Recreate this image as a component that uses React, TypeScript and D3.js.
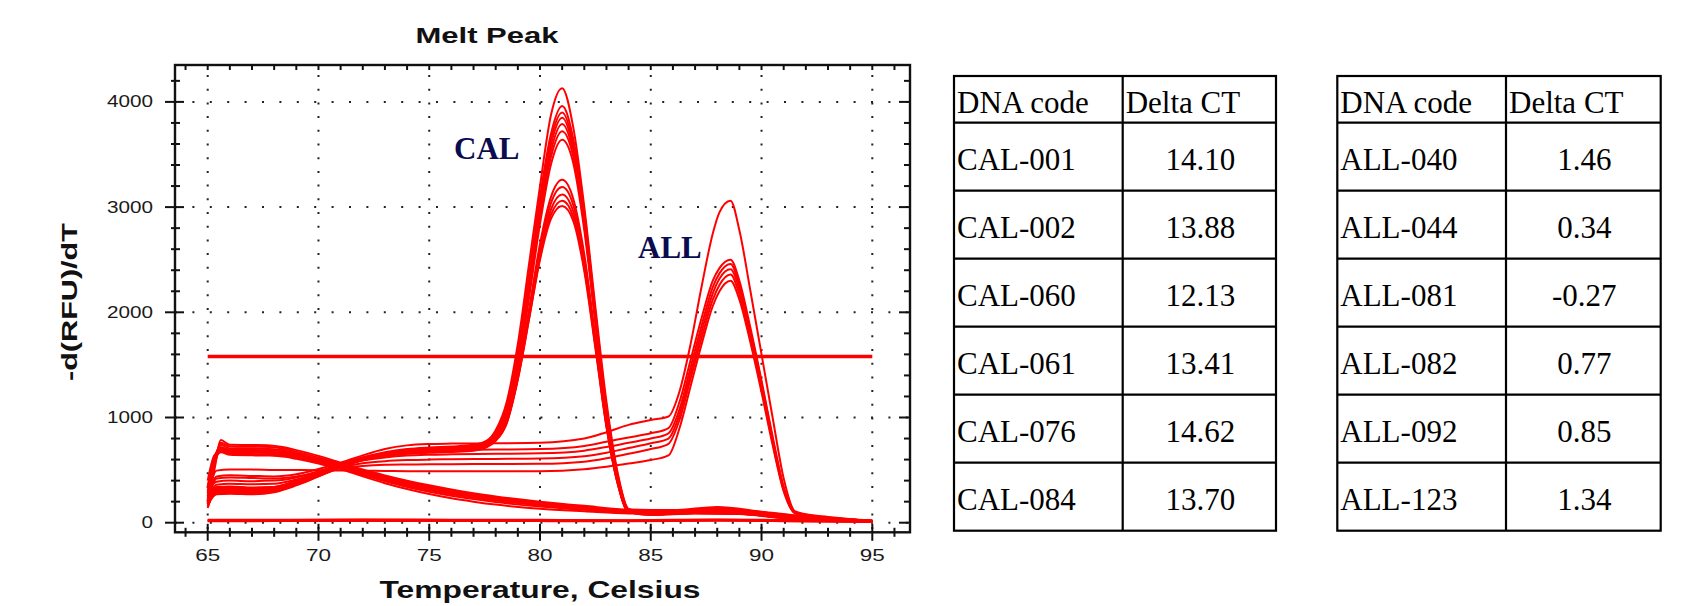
import React from "react"
import * as d3 from "d3"

// -d(RFU)/dT curves
const calTemps = [65, 65.4, 66, 67, 68, 69, 70, 71, 72, 73, 74, 75, 76, 77, 77.6, 78, 78.5, 79, 79.5, 80, 80.5, 81, 81.5, 82, 82.5, 83, 83.5, 84, 85, 87, 89, 91, 93, 95]
const calA = [160, 300, 310, 300, 320, 390, 470, 550, 620, 670, 700, 715, 725, 740, 780, 880, 1150, 1700, 2450, 3200, 3880, 4130, 3760, 3000, 2050, 1150, 480, 130, 95, 120, 110, 60, 35, 15]
const calB = [200, 290, 300, 290, 300, 370, 450, 540, 610, 660, 690, 705, 715, 730, 770, 860, 1100, 1620, 2350, 3100, 3700, 3960, 3650, 2950, 2000, 1100, 460, 125, 90, 115, 105, 58, 32, 14]
const calC = [140, 320, 330, 320, 330, 400, 480, 555, 620, 660, 685, 700, 710, 720, 755, 840, 1070, 1580, 2300, 3050, 3650, 3900, 3600, 2900, 1980, 1080, 450, 120, 88, 110, 100, 55, 30, 14]
const calD = [230, 280, 285, 280, 295, 360, 440, 530, 600, 645, 675, 690, 700, 715, 750, 830, 1040, 1540, 2250, 3000, 3600, 3850, 3560, 2870, 1950, 1060, 440, 118, 85, 105, 98, 54, 30, 13]
const calE = [180, 310, 315, 305, 315, 385, 465, 545, 610, 650, 675, 690, 698, 708, 745, 820, 1020, 1500, 2200, 2950, 3540, 3790, 3520, 2840, 1930, 1040, 430, 115, 84, 104, 96, 52, 28, 13]
const calF = [210, 330, 340, 330, 335, 400, 475, 550, 615, 655, 680, 692, 700, 712, 750, 830, 1030, 1500, 2180, 2900, 3480, 3720, 3480, 2820, 1920, 1030, 420, 112, 82, 100, 94, 50, 27, 12]
const calG = [170, 270, 275, 270, 290, 355, 440, 525, 595, 640, 665, 680, 690, 702, 740, 815, 1000, 1460, 2130, 2840, 3410, 3640, 3420, 2780, 1900, 1020, 415, 110, 80, 98, 92, 50, 27, 12]
const calH = [250, 300, 305, 300, 310, 375, 455, 535, 600, 640, 665, 680, 688, 700, 735, 800, 980, 1420, 2020, 2650, 3100, 3260, 3080, 2550, 1760, 960, 400, 108, 80, 96, 90, 48, 26, 12]
const calI = [190, 285, 290, 285, 300, 365, 445, 530, 595, 635, 660, 672, 680, 692, 728, 790, 965, 1400, 1990, 2600, 3040, 3190, 3020, 2500, 1730, 940, 390, 105, 78, 94, 88, 47, 25, 11]
const calJ = [150, 310, 320, 310, 320, 385, 462, 540, 600, 638, 660, 670, 678, 690, 724, 785, 955, 1380, 1960, 2560, 2980, 3120, 2960, 2460, 1700, 930, 385, 104, 76, 92, 86, 46, 25, 11]
const calK = [220, 295, 300, 295, 305, 370, 450, 532, 595, 632, 655, 665, 672, 684, 718, 778, 945, 1360, 1930, 2520, 2930, 3060, 2910, 2420, 1680, 920, 380, 102, 75, 90, 84, 45, 24, 11]
const calL = [260, 340, 345, 335, 340, 400, 478, 552, 610, 645, 665, 675, 682, 694, 728, 790, 960, 1370, 1930, 2500, 2890, 3010, 2870, 2390, 1660, 910, 375, 100, 74, 88, 82, 44, 24, 10]

const allTemps = [65, 65.4, 66, 67, 68, 69, 70, 71, 72, 73, 74, 75, 76, 78, 80, 82, 83, 84, 85, 85.8, 86.3, 86.8, 87.3, 87.8, 88.1, 88.6, 89, 89.5, 90, 90.5, 91, 91.5, 92, 93, 95]
const allA = [230, 440, 450, 445, 440, 460, 510, 570, 640, 700, 735, 748, 752, 755, 760, 800, 860, 930, 976, 1010, 1250, 1700, 2250, 2750, 2950, 3060, 2780, 2200, 1600, 1000, 420, 110, 80, 55, 20]
const allB = [300, 390, 400, 395, 400, 430, 490, 555, 610, 650, 672, 685, 690, 695, 700, 730, 770, 810, 850, 900, 1150, 1550, 1950, 2300, 2420, 2500, 2300, 1850, 1350, 820, 340, 100, 75, 50, 18]
const allC = [200, 360, 370, 365, 370, 410, 470, 540, 590, 620, 638, 646, 650, 655, 660, 685, 720, 760, 800, 850, 1080, 1480, 1880, 2240, 2370, 2460, 2260, 1820, 1330, 800, 330, 100, 72, 48, 17]
const allD = [270, 330, 335, 330, 340, 390, 455, 525, 565, 585, 595, 600, 603, 606, 610, 632, 665, 710, 755, 800, 1030, 1420, 1820, 2180, 2320, 2410, 2220, 1790, 1300, 780, 320, 95, 70, 46, 16]
const allE = [180, 420, 430, 425, 420, 440, 480, 520, 540, 550, 553, 555, 556, 558, 560, 580, 612, 655, 700, 750, 980, 1370, 1760, 2120, 2260, 2360, 2170, 1750, 1270, 760, 310, 95, 68, 45, 16]
const allF = [250, 495, 505, 505, 500, 500, 498, 496, 494, 492, 490, 490, 490, 490, 490, 508, 532, 562, 596, 640, 900, 1300, 1700, 2060, 2200, 2300, 2120, 1710, 1240, 740, 300, 90, 65, 44, 15]

const descTemps = [65, 65.3, 65.6, 66, 67, 67.8, 68.5, 69, 70, 71, 72, 73, 74, 75, 76, 77, 78, 80, 82, 84, 86, 88, 90, 92, 95]
const descA = [180, 500, 785, 740, 738, 735, 715, 690, 635, 570, 505, 450, 400, 355, 315, 280, 250, 200, 160, 125, 120, 150, 105, 60, 20]
const descB = [250, 560, 760, 725, 722, 720, 700, 675, 620, 560, 495, 440, 390, 345, 305, 270, 240, 190, 150, 118, 112, 140, 100, 58, 18]
const descC = [300, 600, 740, 705, 705, 700, 685, 660, 605, 548, 485, 430, 380, 335, 295, 262, 232, 182, 145, 112, 108, 132, 95, 55, 17]
const descD = [350, 620, 720, 690, 690, 688, 672, 650, 597, 540, 478, 422, 372, 327, 288, 255, 225, 176, 140, 108, 104, 126, 92, 53, 16]
const descE = [220, 540, 705, 680, 678, 675, 660, 638, 588, 532, 470, 413, 362, 318, 280, 247, 218, 170, 135, 104, 100, 120, 88, 50, 15]
const descF = [280, 580, 690, 668, 665, 662, 648, 627, 578, 524, 462, 404, 352, 308, 270, 238, 210, 163, 130, 100, 96, 115, 85, 48, 14]
const descG = [400, 640, 680, 655, 652, 650, 637, 617, 570, 517, 452, 393, 340, 295, 257, 225, 197, 153, 122, 95, 92, 110, 82, 46, 14]
const descH = [330, 590, 670, 645, 640, 638, 626, 607, 562, 510, 440, 375, 320, 272, 232, 200, 172, 132, 108, 88, 86, 104, 78, 44, 13]

const baseTemps = [65, 68, 72, 76, 80, 84, 88, 91, 95]
const baseA = [22, 24, 26, 25, 24, 20, 28, 22, 12]
const baseB = [18, 20, 22, 22, 20, 17, 24, 18, 10]
const baseC = [14, 16, 18, 18, 16, 14, 20, 15, 8]
const baseD = [26, 27, 30, 28, 26, 23, 30, 25, 14]

const threshold = 1580
const thresholdRange = [65, 95]

const xTicks = [65, 70, 75, 80, 85, 90, 95]
const yTicks = [0, 1000, 2000, 3000, 4000]

// tables
const calCodes = ["CAL-001", "CAL-002", "CAL-060", "CAL-061", "CAL-076", "CAL-084"]
const calDeltaCt = [14.10, 13.88, 12.13, 13.41, 14.62, 13.70]
const allCodes = ["ALL-040", "ALL-044", "ALL-081", "ALL-082", "ALL-092", "ALL-123"]
const allDeltaCt = [1.46, 0.34, -0.27, 0.77, 0.85, 1.34]
const headers = ["DNA code", "Delta CT"]

const groups = [
    { temps: calTemps, curves: [calA, calB, calC, calD, calE, calF, calG, calH, calI, calJ, calK, calL], width: 2 },
    { temps: allTemps, curves: [allA, allB, allC, allD, allE, allF], width: 2 },
    { temps: descTemps, curves: [descA, descB, descC, descD, descE, descF, descG, descH], width: 2 },
    { temps: baseTemps, curves: [baseA, baseB, baseC, baseD], width: 2.2 },
]

const RED = "#ff0000"
const INK = "#111"
const NAVY = "#0b0b50"

function MeltPeak() {
    const frame = { left: 175, right: 910, top: 65, bottom: 532.3 }

    const x = d3.scaleLinear().domain([65, 95]).range([207.7, 872.3])
    const y = d3.scaleLinear().domain([0, 4000]).range([522.7, 101.9])

    const line = d3.line<[number, number]>()
        .x(d => x(d[0]))
        .y(d => y(d[1]))
        .curve(d3.curveMonotoneX)

    const xMinor = d3.range(64, 97, 1)
    const yMinor = d3.range(0, 4400, 200)

    const sans = "'Liberation Sans', Arial, sans-serif"

    return (
        <g>
            <text x={487} y={43} textAnchor="middle" fontFamily={sans} fontWeight="bold" fontSize={22}
                textLength={143} lengthAdjust="spacingAndGlyphs" fill={INK}>Melt Peak</text>

            {/* dotted grid */}
            {yTicks.map(t => (
                <line key={"gy" + t} x1={frame.left} x2={frame.right} y1={y(t)} y2={y(t)}
                    stroke="#222" strokeWidth={2} strokeDasharray="2 15.4" />
            ))}
            {xTicks.map(t => (
                <line key={"gx" + t} x1={x(t)} x2={x(t)} y1={frame.top} y2={frame.bottom}
                    stroke="#222" strokeWidth={2} strokeDasharray="2 11.7" strokeDashoffset={-10} />
            ))}

            {/* curves */}
            {groups.map((g, gi) => g.curves.map((c, ci) => (
                <path key={gi + "-" + ci}
                    d={line(g.temps.map((t, i) => [t, c[i]] as [number, number])) || ""}
                    fill="none" stroke={RED} strokeWidth={g.width} strokeLinejoin="round" />
            )))}

            <line x1={x(thresholdRange[0])} x2={x(thresholdRange[1])} y1={y(threshold)} y2={y(threshold)}
                stroke={RED} strokeWidth={3.6} />

            {/* frame and ticks */}
            <rect x={frame.left} y={frame.top} width={frame.right - frame.left} height={frame.bottom - frame.top}
                fill="none" stroke={INK} strokeWidth={2.4} />

            {yMinor.map(v => {
                const major = v % 1000 === 0
                return (
                    <g key={"ty" + v}>
                        <line x1={major ? 165 : 171} x2={major ? 184 : 180} y1={y(v)} y2={y(v)} stroke={INK} strokeWidth={2} />
                        <line x1={frame.right - (major ? 11 : 6)} x2={frame.right} y1={y(v)} y2={y(v)} stroke={INK} strokeWidth={2} />
                    </g>
                )
            })}
            {xMinor.map(v => {
                const major = v % 5 === 0
                return (
                    <g key={"tx" + v}>
                        <line x1={x(v)} x2={x(v)} y1={frame.bottom - (major ? 8.5 : 4.5)} y2={frame.bottom + (major ? 8.5 : 4.5)} stroke={INK} strokeWidth={2} />
                        <line x1={x(v)} x2={x(v)} y1={frame.top} y2={frame.top + 5} stroke={INK} strokeWidth={2} />
                    </g>
                )
            })}

            {yTicks.map(t => (
                <text key={"ly" + t} x={153} y={y(t) + 5.5} textAnchor="end" fontFamily={sans} fontSize={16}
                    textLength={String(t).length * 11.5} lengthAdjust="spacingAndGlyphs" fill="#1a1a1a">{t}</text>
            ))}
            {xTicks.map(t => (
                <text key={"lx" + t} x={x(t)} y={561} textAnchor="middle" fontFamily={sans} fontSize={16}
                    textLength={25} lengthAdjust="spacingAndGlyphs" fill="#1a1a1a">{t}</text>
            ))}

            <text x={540} y={598} textAnchor="middle" fontFamily={sans} fontWeight="bold" fontSize={23}
                textLength={321} lengthAdjust="spacingAndGlyphs" fill={INK}>Temperature, Celsius</text>
            <text transform="translate(77,302) rotate(-90)" textAnchor="middle" fontFamily={sans} fontWeight="bold"
                fontSize={22} textLength={158} lengthAdjust="spacingAndGlyphs" fill={INK}>-d(RFU)/dT</text>

            <text x={454} y={159} fontFamily="'Liberation Serif', 'Times New Roman', serif" fontWeight="bold"
                fontSize={31} fill={NAVY}>CAL</text>
            <text x={638} y={258} fontFamily="'Liberation Serif', 'Times New Roman', serif" fontWeight="bold"
                fontSize={31} fill={NAVY}>ALL</text>
        </g>
    )
}

function Table({ left, mid, right, codes, values }: { left: number, mid: number, right: number, codes: string[], values: number[] }) {
    const top = 76
    const headerBottom = 122.7
    const rowH = 68
    const rowTops = codes.map((_, i) => headerBottom + i * rowH)
    const bottom = headerBottom + codes.length * rowH
    const serif = "'Liberation Serif', 'Times New Roman', serif"

    return (
        <g fontFamily={serif} fontSize={31} fill="#000">
            <rect x={left} y={top} width={right - left} height={bottom - top} fill="none" stroke="#000" strokeWidth={2.2} />
            <line x1={mid} x2={mid} y1={top} y2={bottom} stroke="#000" strokeWidth={2.2} />
            <line x1={left} x2={right} y1={headerBottom} y2={headerBottom} stroke="#000" strokeWidth={2.2} />
            {rowTops.slice(1).map(r => (
                <line key={r} x1={left} x2={right} y1={r} y2={r} stroke="#000" strokeWidth={2.2} />
            ))}
            <text x={left + 3} y={112.7}>{headers[0]}</text>
            <text x={mid + 3} y={112.7}>{headers[1]}</text>
            {codes.map((c, i) => (
                <g key={c}>
                    <text x={left + 3} y={rowTops[i] + 47.3}>{c}</text>
                    <text x={(mid + right) / 2 + 1} y={rowTops[i] + 47.3} textAnchor="middle">{values[i].toFixed(2)}</text>
                </g>
            ))}
        </g>
    )
}

export default function App() {
    return (
        <div style={{ position: "absolute", left: 0, top: 0, width: 1701, height: 606, background: "#fff" }}>
            <svg width={1701} height={606} viewBox="0 0 1701 606">
                <rect width={1701} height={606} fill="#fff" />
                <MeltPeak />
                <Table left={954} mid={1122.7} right={1276} codes={calCodes} values={calDeltaCt} />
                <Table left={1337.3} mid={1506} right={1660.7} codes={allCodes} values={allDeltaCt} />
            </svg>
        </div>
    )
}
